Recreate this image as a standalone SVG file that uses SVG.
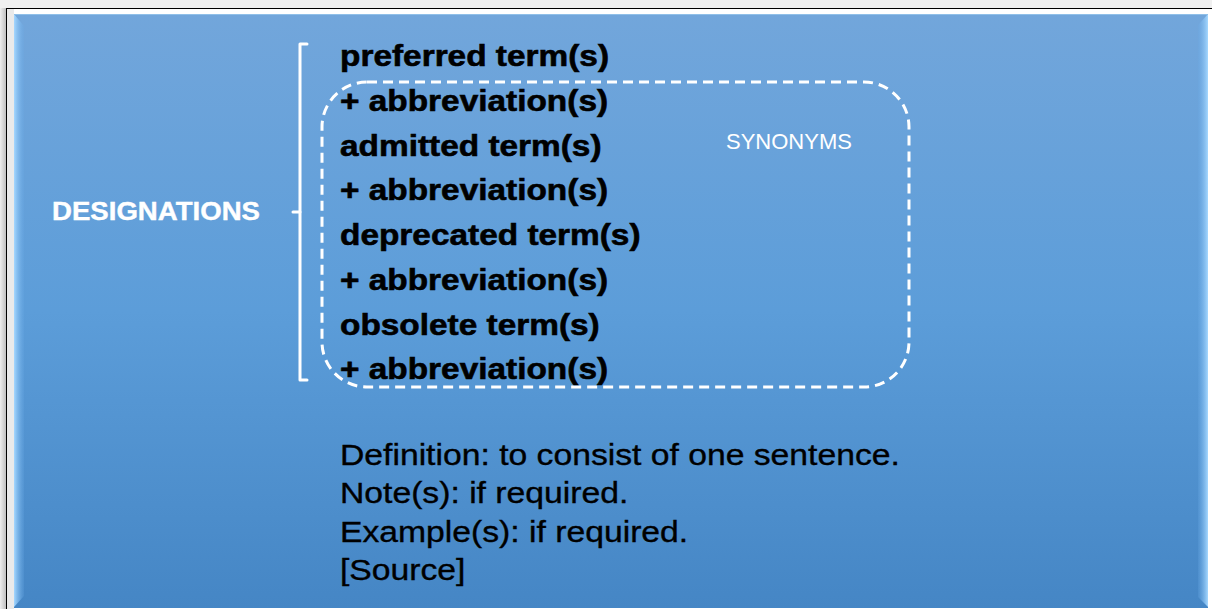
<svg xmlns="http://www.w3.org/2000/svg" width="1212" height="609" viewBox="0 0 1212 609">
<defs>
<linearGradient id="bg" x1="0" y1="0" x2="0" y2="1">
<stop offset="0" stop-color="#72a6db"/>
<stop offset="0.5" stop-color="#5c9dd9"/>
<stop offset="1" stop-color="#4586c5"/>
</linearGradient>
<linearGradient id="bevL" x1="0" y1="0" x2="1" y2="0">
<stop offset="0" stop-color="#a6d8ff"/>
<stop offset="1" stop-color="#6aaae6" stop-opacity="0.2"/>
</linearGradient>
<linearGradient id="bevR" x1="0" y1="0" x2="1" y2="0">
<stop offset="0" stop-color="#6aaae6" stop-opacity="0.2"/>
<stop offset="1" stop-color="#a6d8ff"/>
</linearGradient>
<linearGradient id="shadowL" x1="0" y1="0" x2="1" y2="0">
<stop offset="0" stop-color="#eeeeee"/>
<stop offset="1" stop-color="#b8b8b8"/>
</linearGradient>
</defs>
<style>
.term{font-family:"Liberation Sans",Arial,sans-serif;font-weight:bold;font-size:30px;fill:#000;stroke:#000;stroke-width:0.6}
.body{font-family:"Liberation Sans",Arial,sans-serif;font-size:29px;fill:#000;stroke:#000;stroke-width:0.35}
.white{fill:#fff;font-family:"Liberation Sans",Arial,sans-serif}
.bracket{fill:none;stroke:#fff;stroke-width:3;stroke-linejoin:round;stroke-linecap:round}
.dash{fill:none;stroke:#fff;stroke-width:3;stroke-dasharray:10 6}
</style>
<rect x="0" y="0" width="1212" height="609" fill="#f0f0f0"/>
<rect x="0" y="8" width="7" height="601" fill="url(#shadowL)"/>
<rect x="6" y="8" width="1206" height="601" fill="#ffffff"/>
<line x1="6" y1="8.5" x2="1212" y2="8.5" stroke="#000" stroke-width="1"/>
<line x1="6.5" y1="8" x2="6.5" y2="609" stroke="#000" stroke-width="1"/>
<rect x="7" y="9" width="7" height="600" fill="#dcdcdc" opacity="0.6"/>

<g id="panel">
<rect x="14" y="14" width="1194" height="594" fill="url(#bg)"/>
<polygon points="14,14 24,26 24,596 14,607" fill="url(#bevL)"/>
<polygon points="1208,14 1198,25 1198,597 1208,607" fill="url(#bevR)"/>
<line x1="14" y1="14.5" x2="1208" y2="14.5" stroke="#8fbfe8" stroke-width="1"/>
</g>

<g id="designations">
<text class="white" transform="translate(52,219.5) scale(1.104,1)" font-size="25" font-weight="bold" stroke="#fff" stroke-width="0.4">DESIGNATIONS</text>
</g>

<g id="connectors">
<path class="bracket" d="M307,44 H300 V380 H307"/>
<line class="bracket" x1="300" y1="212" x2="293" y2="212"/>
</g>

<g id="synonyms">
<rect class="dash" x="322" y="82" width="587" height="305" rx="45" ry="45"/>
<text class="white" x="726" y="148.5" font-size="22">SYNONYMS</text>
</g>

<g id="terms">
<text class="term" transform="translate(340,66) scale(1.113,1)">preferred term(s)</text>
<text class="term" transform="translate(340,110.5) scale(1.113,1)">+ abbreviation(s)</text>
<text class="term" transform="translate(340,155.5) scale(1.113,1)">admitted term(s)</text>
<text class="term" transform="translate(340,200) scale(1.113,1)">+ abbreviation(s)</text>
<text class="term" transform="translate(340,245) scale(1.113,1)">deprecated term(s)</text>
<text class="term" transform="translate(340,289.5) scale(1.113,1)">+ abbreviation(s)</text>
<text class="term" transform="translate(340,334.5) scale(1.113,1)">obsolete term(s)</text>
<text class="term" transform="translate(340,379) scale(1.113,1)">+ abbreviation(s)</text>
</g>

<g id="details">
<text class="body" transform="translate(340,464.5) scale(1.162,1)">Definition: to consist of one sentence.</text>
<text class="body" transform="translate(340,503) scale(1.162,1)">Note(s): if required.</text>
<text class="body" transform="translate(340,541.5) scale(1.162,1)">Example(s): if required.</text>
<text class="body" transform="translate(340,580) scale(1.162,1)">[Source]</text>
</g>
</svg>
